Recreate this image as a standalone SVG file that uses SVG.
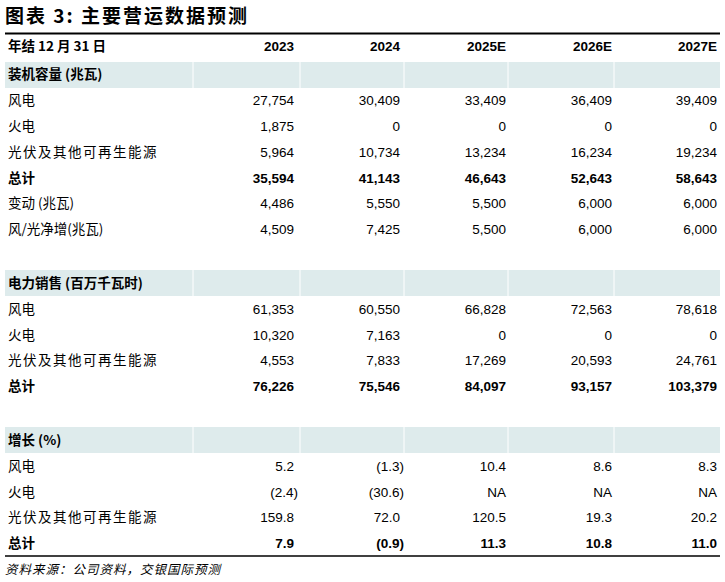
<svg xmlns="http://www.w3.org/2000/svg" width="725" height="582" viewBox="0 0 725 582">
<style>
text{font-family:"Liberation Sans","Noto Sans CJK SC",sans-serif;font-size:13.5px;fill:#000}
.c{font-family:"Noto Sans CJK SC",sans-serif}
.b{font-weight:bold}
.r{text-anchor:end}
.band{fill:#deebec}
.sep{stroke:#fff;stroke-width:1}
</style>
<rect width="725" height="582" fill="#fff"/>
<text x="5" y="23" class="c b" style="font-size:19px;letter-spacing:2px">图表 3: 主要营运数据预测</text>
<g id="rules">
<line x1="5" y1="33.5" x2="720" y2="33.5" stroke="#000" stroke-width="2"/>
<line x1="5" y1="556" x2="720" y2="556" stroke="#000" stroke-width="1.5"/>
</g>
<g id="bands">
<rect class="band" x="5" y="62" width="715" height="26"/>
<rect class="band" x="5" y="270" width="715" height="26"/>
<rect class="band" x="5" y="427" width="715" height="26"/>
<g class="sep">
<line x1="193" y1="62" x2="193" y2="88"/><line x1="300" y1="62" x2="300" y2="88"/><line x1="404" y1="62" x2="404" y2="88"/><line x1="508" y1="62" x2="508" y2="88"/><line x1="614" y1="62" x2="614" y2="88"/>
<line x1="193" y1="270" x2="193" y2="296"/><line x1="300" y1="270" x2="300" y2="296"/><line x1="404" y1="270" x2="404" y2="296"/><line x1="508" y1="270" x2="508" y2="296"/><line x1="614" y1="270" x2="614" y2="296"/>
<line x1="193" y1="427" x2="193" y2="453"/><line x1="300" y1="427" x2="300" y2="453"/><line x1="404" y1="427" x2="404" y2="453"/><line x1="508" y1="427" x2="508" y2="453"/><line x1="614" y1="427" x2="614" y2="453"/>
</g>
</g>
<g id="header" class="b">
<text x="8" y="51" class="c b">年结 12 月 31 日</text>
<text x="294" y="51" class="r b">2023</text><text x="400" y="51" class="r b">2024</text><text x="506" y="51" class="r b">2025E</text><text x="612" y="51" class="r b">2026E</text><text x="717" y="51" class="r b">2027E</text>
</g>
<g id="sec1">
<text x="8" y="79" class="c b">装机容量 (兆瓦)</text>
<text x="8" y="105" class="c">风电</text><text x="294" y="105" class="r">27,754</text><text x="400" y="105" class="r">30,409</text><text x="506" y="105" class="r">33,409</text><text x="612" y="105" class="r">36,409</text><text x="717" y="105" class="r">39,409</text>
<text x="8" y="131" class="c">火电</text><text x="294" y="131" class="r">1,875</text><text x="400" y="131" class="r">0</text><text x="506" y="131" class="r">0</text><text x="612" y="131" class="r">0</text><text x="717" y="131" class="r">0</text>
<text x="8" y="157" class="c" style="letter-spacing:1.5px">光伏及其他可再生能源</text><text x="294" y="157" class="r">5,964</text><text x="400" y="157" class="r">10,734</text><text x="506" y="157" class="r">13,234</text><text x="612" y="157" class="r">16,234</text><text x="717" y="157" class="r">19,234</text>
<g class="b"><text x="8" y="183" class="c b">总计</text><text x="294" y="183" class="r b">35,594</text><text x="400" y="183" class="r b">41,143</text><text x="506" y="183" class="r b">46,643</text><text x="612" y="183" class="r b">52,643</text><text x="717" y="183" class="r b">58,643</text></g>
<text x="8" y="208" class="c">变动 (兆瓦)</text><text x="294" y="208" class="r">4,486</text><text x="400" y="208" class="r">5,550</text><text x="506" y="208" class="r">5,500</text><text x="612" y="208" class="r">6,000</text><text x="717" y="208" class="r">6,000</text>
<text x="8" y="234" class="c">风/光净增(兆瓦)</text><text x="294" y="234" class="r">4,509</text><text x="400" y="234" class="r">7,425</text><text x="506" y="234" class="r">5,500</text><text x="612" y="234" class="r">6,000</text><text x="717" y="234" class="r">6,000</text>
</g>
<g id="sec2">
<text x="8" y="288" class="c b">电力销售 (百万千瓦时)</text>
<text x="8" y="314" class="c">风电</text><text x="294" y="314" class="r">61,353</text><text x="400" y="314" class="r">60,550</text><text x="506" y="314" class="r">66,828</text><text x="612" y="314" class="r">72,563</text><text x="717" y="314" class="r">78,618</text>
<text x="8" y="340" class="c">火电</text><text x="294" y="340" class="r">10,320</text><text x="400" y="340" class="r">7,163</text><text x="506" y="340" class="r">0</text><text x="612" y="340" class="r">0</text><text x="717" y="340" class="r">0</text>
<text x="8" y="365" class="c" style="letter-spacing:1.5px">光伏及其他可再生能源</text><text x="294" y="365" class="r">4,553</text><text x="400" y="365" class="r">7,833</text><text x="506" y="365" class="r">17,269</text><text x="612" y="365" class="r">20,593</text><text x="717" y="365" class="r">24,761</text>
<text x="8" y="391" class="c b">总计</text><text x="294" y="391" class="r b">76,226</text><text x="400" y="391" class="r b">75,546</text><text x="506" y="391" class="r b">84,097</text><text x="612" y="391" class="r b">93,157</text><text x="717" y="391" class="r b">103,379</text>
</g>
<g id="sec3">
<text x="8" y="445" class="c b">增长 (%)</text>
<text x="8" y="471" class="c">风电</text><text x="294" y="471" class="r">5.2</text><text x="404" y="471" class="r">(1.3)</text><text x="506" y="471" class="r">10.4</text><text x="612" y="471" class="r">8.6</text><text x="717" y="471" class="r">8.3</text>
<text x="8" y="497" class="c">火电</text><text x="298" y="497" class="r">(2.4)</text><text x="404" y="497" class="r">(30.6)</text><text x="506" y="497" class="r">NA</text><text x="612" y="497" class="r">NA</text><text x="717" y="497" class="r">NA</text>
<text x="8" y="522" class="c" style="letter-spacing:1.5px">光伏及其他可再生能源</text><text x="294" y="522" class="r">159.8</text><text x="400" y="522" class="r">72.0</text><text x="506" y="522" class="r">120.5</text><text x="612" y="522" class="r">19.3</text><text x="717" y="522" class="r">20.2</text>
<text x="8" y="548" class="c b">总计</text><text x="294" y="548" class="r b">7.9</text><text x="404" y="548" class="r b">(0.9)</text><text x="506" y="548" class="r b">11.3</text><text x="612" y="548" class="r b">10.8</text><text x="717" y="548" class="r b">11.0</text>
</g>
<text x="5" y="574" class="c" style="font-size:12.5px;font-style:italic;letter-spacing:1px">资料来源：公司资料，交银国际预测</text>
</svg>
